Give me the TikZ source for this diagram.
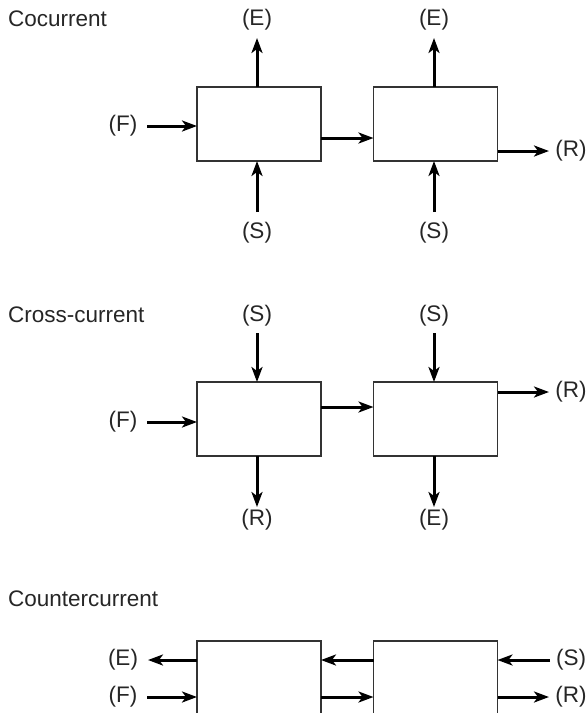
\documentclass[tikz,border=0pt]{standalone}
\usepackage{fontspec}
\setmainfont{Liberation Sans}
\usetikzlibrary{arrows.meta}
\begin{document}
\begin{tikzpicture}[x=1pt,y=-1pt,
  stage/.style={draw=black!80,line width=1.4pt,minimum width=124pt,minimum height=74pt,inner sep=0pt,outer sep=0pt},
  arr/.style={line width=3pt,-{Stealth[length=15pt,width=11pt,inset=4pt]}},
  lab/.style={font=\fontsize{22.5}{26}\selectfont,text=black!85,inner sep=0pt},
  ttl/.style={font=\fontsize{22.5}{26}\selectfont,text=black!85,inner sep=0pt,anchor=west}]
\useasboundingbox (0,0) rectangle (587,713);
\clip (0,0) rectangle (587,713);
% ---------- Cocurrent ----------
\node[ttl] (t1) at (8,19) {Cocurrent};
\node[stage] (a1) at (259,124) {};
\node[stage] (a2) at (435.5,124) {};
\node[lab] (aE1) at (257,20) {(E)};
\node[lab] (aE2) at (434,20) {(E)};
\node[lab] (aF) at (123,126) {(F)};
\node[lab] (aS1) at (257,233) {(S)};
\node[lab] (aS2) at (434,233) {(S)};
\node[lab] (aR) at (571,151) {(R)};
\coordinate (aE1c) at (257,38);
\coordinate (aE2c) at (434,38);
\coordinate (aFc) at (147,126);
\coordinate (aS1c) at (257,212);
\coordinate (aS2c) at (434,212);
\coordinate (aRc) at (549,151);
\draw[arr] (a1.north -| aE1c) -- (aE1c);
\draw[arr] (a2.north -| aE2c) -- (aE2c);
\draw[arr] (aFc) -- (aFc -| a1.west);
\draw[arr] (aS1c) -- (aS1c |- a1.south);
\draw[arr] (aS2c) -- (aS2c |- a2.south);
\coordinate (am) at (0,138);
\draw[arr] (am -| a1.east) -- (am -| a2.west);
\draw[arr] (aRc -| a2.east) -- (aRc);
% ---------- Cross-current ----------
\node[ttl] (t2) at (8,315) {Cross-current};
\node[stage] (b1) at (259,419) {};
\node[stage] (b2) at (435.5,419) {};
\node[lab] (bS1) at (257,316) {(S)};
\node[lab] (bS2) at (434,316) {(S)};
\node[lab] (bF) at (123,422) {(F)};
\node[lab] (bR1) at (257,520) {(R)};
\node[lab] (bE2) at (434,520) {(E)};
\node[lab] (bR2) at (571,392) {(R)};
\coordinate (bS1c) at (257,333);
\coordinate (bS2c) at (434,333);
\coordinate (bFc) at (147,422);
\coordinate (bR1c) at (257,507);
\coordinate (bE2c) at (434,507);
\coordinate (bR2c) at (549,392);
\draw[arr] (bS1c) -- (bS1c |- b1.north);
\draw[arr] (bS2c) -- (bS2c |- b2.north);
\draw[arr] (bFc) -- (bFc -| b1.west);
\draw[arr] (b1.south -| bR1c) -- (bR1c);
\draw[arr] (b2.south -| bE2c) -- (bE2c);
\coordinate (bm) at (0,407);
\draw[arr] (bm -| b1.east) -- (bm -| b2.west);
\draw[arr] (bR2c -| b2.east) -- (bR2c);
% ---------- Countercurrent ----------
\node[ttl] (t3) at (8,599) {Countercurrent};
\node[stage] (c1) at (259,678) {};
\node[stage] (c2) at (435.5,678) {};
\node[lab] (cE) at (123,660) {(E)};
\node[lab] (cF) at (123,697) {(F)};
\node[lab] (cS) at (571,660) {(S)};
\node[lab] (cR) at (571,697) {(R)};
\coordinate (cEc) at (148,660);
\coordinate (cFc) at (147,697);
\coordinate (cSc) at (550,660);
\coordinate (cRc) at (549,697);
\draw[arr] (cEc -| c1.west) -- (cEc);
\draw[arr] (cFc) -- (cFc -| c1.west);
\coordinate (cm1) at (0,660);
\coordinate (cm2) at (0,697);
\draw[arr] (cm1 -| c2.west) -- (cm1 -| c1.east);
\draw[arr] (cm2 -| c1.east) -- (cm2 -| c2.west);
\draw[arr] (cSc) -- (cSc -| c2.east);
\draw[arr] (cRc -| c2.east) -- (cRc);
\end{tikzpicture}
\end{document}
